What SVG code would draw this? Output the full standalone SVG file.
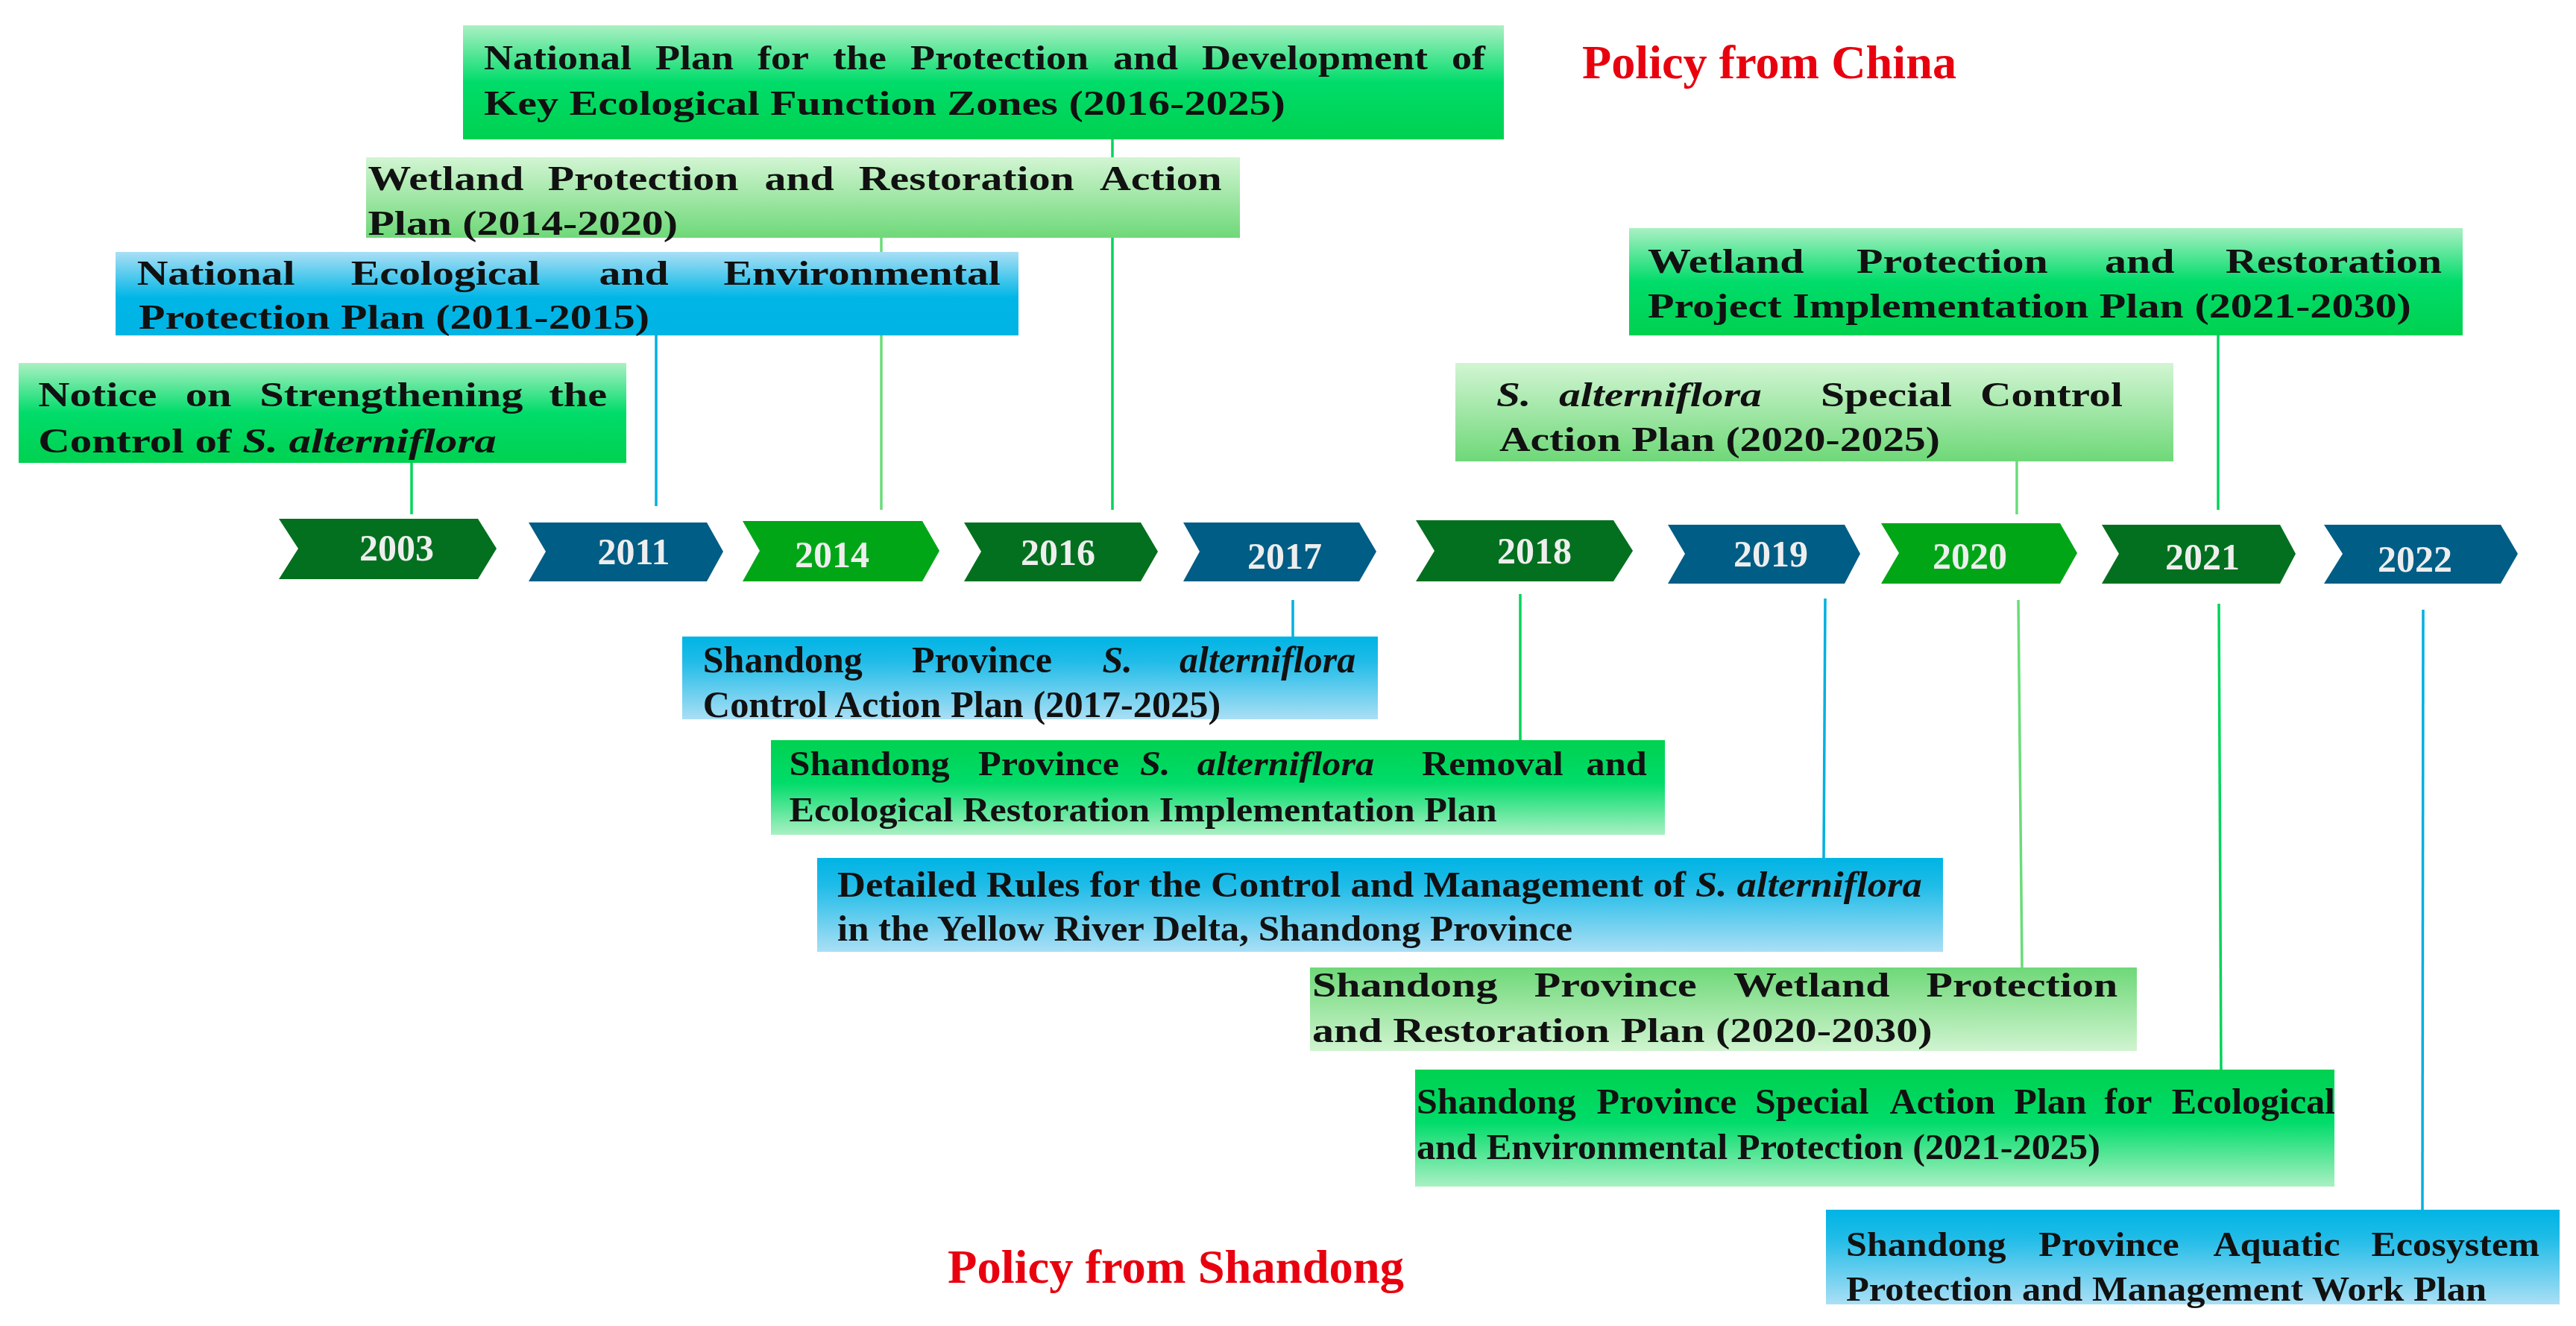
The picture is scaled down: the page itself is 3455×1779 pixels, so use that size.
<svg xmlns="http://www.w3.org/2000/svg" width="3455" height="1779" viewBox="0 0 3455 1779">
<style>
.t{font-family:"Liberation Serif","Times New Roman",serif;font-weight:bold;fill:#111}
.i{font-style:italic}
.yr{font-family:"Liberation Serif","Times New Roman",serif;font-weight:bold;font-size:50px;fill:#EEEEEE;text-anchor:middle}
.ttl{font-family:"Liberation Serif","Times New Roman",serif;font-weight:bold;fill:#E8000E}
.cg{stroke:#00D45A;stroke-width:3.5;fill:none}
.cl{stroke:#6ADC78;stroke-width:3.5;fill:none}
.cb{stroke:#00B0E0;stroke-width:3.5;fill:none}
.dg{fill:#02701E}
.bg{fill:#01A617}
.bl{fill:#005D85}
</style>
<defs>
<linearGradient id="gUp" x1="0" y1="0" x2="0" y2="1"><stop offset="0" stop-color="#AAF0C3"/><stop offset="0.5" stop-color="#00DC6A"/><stop offset="1" stop-color="#00D150"/></linearGradient>
<linearGradient id="gDn" x1="0" y1="0" x2="0" y2="1"><stop offset="0" stop-color="#00D150"/><stop offset="0.45" stop-color="#00DC6A"/><stop offset="1" stop-color="#AAF0C3"/></linearGradient>
<linearGradient id="lUp" x1="0" y1="0" x2="0" y2="1"><stop offset="0" stop-color="#D2F5D3"/><stop offset="1" stop-color="#6ED878"/></linearGradient>
<linearGradient id="lDn" x1="0" y1="0" x2="0" y2="1"><stop offset="0" stop-color="#6ED878"/><stop offset="1" stop-color="#D0F4D0"/></linearGradient>
<linearGradient id="bUp" x1="0" y1="0" x2="0" y2="1"><stop offset="0" stop-color="#AADFF5"/><stop offset="0.55" stop-color="#00B6E6"/><stop offset="1" stop-color="#00B4E4"/></linearGradient>
<linearGradient id="bDn" x1="0" y1="0" x2="0" y2="1"><stop offset="0" stop-color="#00B4E4"/><stop offset="0.3" stop-color="#20BCE8"/><stop offset="1" stop-color="#AADFF5"/></linearGradient>
</defs>
<rect width="3455" height="1779" fill="#FFFFFF"/>

<g id="connectors">
<line class="cg" x1="552" y1="621" x2="552" y2="690"/>
<line class="cb" x1="880" y1="450" x2="880" y2="679"/>
<line class="cl" x1="1182" y1="319" x2="1182" y2="684"/>
<line class="cg" x1="1492" y1="187" x2="1492" y2="684"/>
<line class="cl" x1="2705" y1="619" x2="2705" y2="690"/>
<line class="cg" x1="2975" y1="450" x2="2975" y2="684"/>
<line class="cb" x1="1734" y1="805" x2="1734" y2="854"/>
<line class="cg" x1="2039" y1="797" x2="2039" y2="993"/>
<line class="cb" x1="2448" y1="803" x2="2446" y2="1151"/>
<line class="cl" x1="2707" y1="805" x2="2712" y2="1298"/>
<line class="cg" x1="2976" y1="810" x2="2979" y2="1435"/>
<line class="cb" x1="3250" y1="818" x2="3249" y2="1623"/>
</g>

<g id="y2003"><polygon class="dg" points="374,696 641,696 666,736 641,777 374,777 400,736"/><text class="yr" x="532" y="752">2003</text></g>
<g id="y2011"><polygon class="bl" points="709,701 948,701 970,740 948,780 709,780 732,740"/><text class="yr" x="850" y="757">2011</text></g>
<g id="y2014"><polygon class="bg" points="996,699 1237,699 1260,739 1237,780 996,780 1019,739"/><text class="yr" x="1116" y="761">2014</text></g>
<g id="y2016"><polygon class="dg" points="1293,701 1530,701 1553,740 1530,780 1293,780 1316,740"/><text class="yr" x="1419" y="758">2016</text></g>
<g id="y2017"><polygon class="bl" points="1587,701 1823,701 1846,740 1823,780 1587,780 1609,740"/><text class="yr" x="1723" y="763">2017</text></g>
<g id="y2018"><polygon class="dg" points="1899,698 2164,698 2190,739 2164,780 1899,780 1924,739"/><text class="yr" x="2058" y="756">2018</text></g>
<g id="y2019"><polygon class="bl" points="2237,704 2474,704 2495,743 2474,783 2237,783 2260,743"/><text class="yr" x="2375" y="760">2019</text></g>
<g id="y2020"><polygon class="bg" points="2523,702 2763,702 2786,742 2763,783 2523,783 2547,742"/><text class="yr" x="2642" y="763">2020</text></g>
<g id="y2021"><polygon class="dg" points="2819,704 3058,704 3079,743 3058,783 2819,783 2842,743"/><text class="yr" x="2954" y="764">2021</text></g>
<g id="y2022"><polygon class="bl" points="3117,704 3354,704 3377,743 3354,783 3117,783 3142,743"/><text class="yr" x="3239" y="767">2022</text></g>

<g id="nodeA">
<rect x="621" y="34" width="1396" height="153" fill="url(#gUp)"/>
<text class="t" font-size="47" transform="scale(1.15,1)" y="93"><tspan x="564.3">National </tspan><tspan x="764.3">Plan </tspan><tspan x="883.5">for </tspan><tspan x="971.3">the </tspan><tspan x="1061.7">Protection </tspan><tspan x="1298.3">and </tspan><tspan x="1401.7">Development </tspan><tspan x="1693.0">of</tspan></text>
<text class="t" font-size="47" transform="scale(1.235,1)" x="525.5" y="154" textLength="870.4" lengthAdjust="spacingAndGlyphs">Key Ecological Function Zones (2016-2025)</text>
</g>

<g id="nodeB">
<rect x="491" y="211" width="1172" height="108" fill="url(#lUp)"/>
<text class="t" font-size="47" transform="scale(1.23,1)" y="255"><tspan x="401.3">Wetland </tspan><tspan x="597.3">Protection </tspan><tspan x="833.7">and </tspan><tspan x="936.4">Restoration </tspan><tspan x="1199.2">Action</tspan></text>
<text class="t" font-size="47" transform="scale(1.23,1)" x="401.3" y="315" textLength="337.7" lengthAdjust="spacingAndGlyphs">Plan (2014-2020)</text>
</g>

<g id="nodeC">
<rect x="155" y="338" width="1211" height="112" fill="url(#bUp)"/>
<text class="t" font-size="47" transform="scale(1.23,1)" y="382"><tspan x="149.3">National </tspan><tspan x="382.7">Ecological </tspan><tspan x="653.3">and </tspan><tspan x="789.0">Environmental</tspan></text>
<text class="t" font-size="47" transform="scale(1.23,1)" x="151.2" y="441" textLength="556.9" lengthAdjust="spacingAndGlyphs">Protection Plan (2011-2015)</text>
</g>

<g id="nodeD">
<rect x="25" y="487" width="815" height="134" fill="url(#gUp)"/>
<text class="t" font-size="47" transform="scale(1.245,1)" y="545.5"><tspan x="41.2">Notice </tspan><tspan x="199.8">on </tspan><tspan x="279.7">Strengthening </tspan><tspan x="591.3">the</tspan></text>
<text class="t" font-size="47" transform="scale(1.245,1)" x="41.2" y="607" textLength="493.6" lengthAdjust="spacingAndGlyphs">Control of <tspan class="i">S. alterniflora</tspan></text>
</g>

<g id="nodeE">
<rect x="2185" y="306" width="1118" height="144" fill="url(#gUp)"/>
<text class="t" font-size="47" transform="scale(1.235,1)" y="366"><tspan x="1789.5">Wetland </tspan><tspan x="2016.2">Protection </tspan><tspan x="2285.8">and </tspan><tspan x="2417.0">Restoration</tspan></text>
<text class="t" font-size="47" transform="scale(1.235,1)" x="1789.5" y="426" textLength="829.1" lengthAdjust="spacingAndGlyphs">Project Implementation Plan (2021-2030)</text>
</g>

<g id="nodeF">
<rect x="1952" y="487" width="963" height="132" fill="url(#lUp)"/>
<text class="t" font-size="47" transform="scale(1.225,1)" y="545"><tspan class="i" x="1638.4">S. </tspan><tspan class="i" x="1706.9">alterniflora </tspan><tspan x="1993.5">Special </tspan><tspan x="2168.2">Control</tspan></text>
<text class="t" font-size="47" transform="scale(1.225,1)" x="1641.6" y="605" textLength="482.4" lengthAdjust="spacingAndGlyphs">Action Plan (2020-2025)</text>
</g>

<g id="nodeG">
<rect x="915" y="854" width="933" height="111" fill="url(#bDn)"/>
<text class="t" font-size="50" y="902"><tspan x="942.8">Shandong </tspan><tspan x="1223">Province </tspan><tspan class="i" x="1478.5">S. </tspan><tspan class="i" x="1582">alterniflora</tspan></text>
<text class="t" font-size="50" x="942.8" y="962" textLength="694.5" lengthAdjust="spacingAndGlyphs">Control Action Plan (2017-2025)</text>
</g>

<g id="nodeH">
<rect x="1034" y="993" width="1199" height="127" fill="url(#gDn)"/>
<text class="t" font-size="47" transform="scale(1.07,1)" y="1040"><tspan x="989.3">Shandong </tspan><tspan x="1226.2">Province </tspan><tspan class="i" x="1429.0">S. </tspan><tspan class="i" x="1500.7">alterniflora </tspan><tspan x="1782.2">Removal </tspan><tspan x="1988.4">and</tspan></text>
<text class="t" font-size="47" transform="scale(1.07,1)" x="989.3" y="1102" textLength="887.1" lengthAdjust="spacingAndGlyphs">Ecological Restoration Implementation Plan</text>
</g>

<g id="nodeI">
<rect x="1096" y="1151" width="1510" height="126" fill="url(#bDn)"/>
<text class="t" font-size="48" transform="scale(1.09,1)" x="1030.3" y="1203" textLength="1334.6" lengthAdjust="spacingAndGlyphs">Detailed Rules for the Control and Management of <tspan class="i">S. alterniflora</tspan></text>
<text class="t" font-size="48" transform="scale(1.09,1)" x="1030.3" y="1262" textLength="904.6" lengthAdjust="spacingAndGlyphs">in the Yellow River Delta, Shandong Province</text>
</g>

<g id="nodeJ">
<rect x="1757" y="1298" width="1109" height="112" fill="url(#lDn)"/>
<text class="t" font-size="47" transform="scale(1.235,1)" y="1337"><tspan x="1425.1">Shandong </tspan><tspan x="1666.2">Province </tspan><tspan x="1882.6">Wetland </tspan><tspan x="2091.9">Protection</tspan></text>
<text class="t" font-size="47" transform="scale(1.235,1)" x="1425.1" y="1398" textLength="673.4" lengthAdjust="spacingAndGlyphs">and Restoration Plan (2020-2030)</text>
</g>

<g id="nodeK">
<rect x="1898" y="1435" width="1233" height="157" fill="url(#gDn)"/>
<text class="t" font-size="49" transform="scale(1.02,1)" y="1494"><tspan x="1862.7">Shandong </tspan><tspan x="2099.5">Province </tspan><tspan x="2307.8">Special </tspan><tspan x="2484.9">Action </tspan><tspan x="2648.4">Plan </tspan><tspan x="2767.2">for </tspan><tspan x="2855.6">Ecological</tspan></text>
<text class="t" font-size="49" transform="scale(1.02,1)" x="1862.7" y="1555" textLength="899.0" lengthAdjust="spacingAndGlyphs">and Environmental Protection (2021-2025)</text>
</g>

<g id="nodeL">
<rect x="2449" y="1623" width="984" height="127" fill="url(#bDn)"/>
<text class="t" font-size="46" transform="scale(1.09,1)" y="1685"><tspan x="2271.6">Shandong </tspan><tspan x="2508.6">Province </tspan><tspan x="2723.4">Aquatic </tspan><tspan x="2917.8">Ecosystem</tspan></text>
<text class="t" font-size="46" transform="scale(1.09,1)" x="2271.6" y="1745" textLength="788.1" lengthAdjust="spacingAndGlyphs">Protection and Management Work Plan</text>
</g>

<g id="titles">
<text class="ttl" font-size="63" x="2122" y="105" textLength="502" lengthAdjust="spacingAndGlyphs">Policy from China</text>
<text class="ttl" font-size="64" x="1271" y="1721" textLength="612" lengthAdjust="spacingAndGlyphs">Policy from Shandong</text>
</g>
</svg>
